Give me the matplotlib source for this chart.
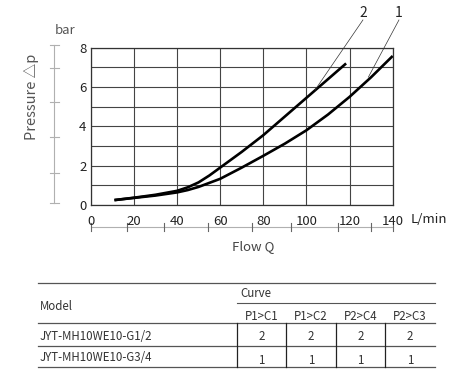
import matplotlib
matplotlib.use("Agg")
from matplotlib import pyplot as plt

plt.rcParams['font.family'] = ['Noto Sans CJK SC', 'DejaVu Sans']

# curve 1 (G3/4) and curve 2 (G1/2)
flow_1 = [11, 20, 30, 40, 45, 50, 60, 70, 80, 90, 100, 110, 120, 130, 140]
dp_1 = [0.25, 0.36, 0.48, 0.64, 0.76, 0.92, 1.33, 1.9, 2.5, 3.12, 3.8, 4.6, 5.5, 6.5, 7.58]
flow_2 = [11, 20, 30, 40, 45, 50, 55, 60, 70, 80, 90, 100, 110, 118.4]
dp_2 = [0.25, 0.37, 0.52, 0.72, 0.9, 1.15, 1.5, 1.9, 2.7, 3.55, 4.5, 5.45, 6.4, 7.2]

x_ticks = [0, 20, 40, 60, 80, 100, 120, 140]
y_ticks = [0, 2, 4, 6, 8]
y_minor = [1, 3, 5, 7]

# leader points on the curves (flow, dp) and label names
leader_pts = [(104, 5.85), (128.7, 6.5)]
leader_names = ['2', '1']

# table
models = ['JYT-MH10WE10-G1/2', 'JYT-MH10WE10-G3/4']
ports = ['P1>C1', 'P1>C2', 'P2>C4', 'P2>C3']
curve_ids = [['2', '2', '2', '2'], ['1', '1', '1', '1']]

W, H = 453, 385
fig = plt.figure(figsize=(W / 100, H / 100), dpi=100)

# overlay axes in pixel units, for decorations and the table
ov = fig.add_axes([0, 0, 1, 1])
ov.set_xlim(0, W)
ov.set_ylim(H, 0)
ov.axis('off')

x0, x1, ytop, ybot = 90.7, 392.7, 47.7, 205.0
ax = fig.add_axes([x0 / W, 1 - ybot / H, (x1 - x0) / W, (ybot - ytop) / H])
ax.set_xlim(0, 140)
ax.set_ylim(0, 8)
ax.set_xticks(x_ticks)
ax.set_yticks(y_ticks)
ax.set_yticks(y_minor, minor=True)
ax.grid(True, which='both', color='#444444', lw=0.8)
ax.tick_params(which='both', length=0, labelsize=9.5, labelcolor='#222222')
ax.tick_params(axis='x', pad=7)
ax.tick_params(axis='y', pad=3)
for s in ax.spines.values():
    s.set_color('#333333')
    s.set_linewidth(0.9)

ax.plot(flow_1, dp_1, color='black', lw=1.9, solid_capstyle='butt')
ax.plot(flow_2, dp_2, color='black', lw=1.9, solid_capstyle='butt')

# leader lines
label_pos = [(126.2, 9.41), (142.9, 9.41)]
for (px, py), (lx, ly), name in zip(leader_pts, label_pos, leader_names):
    ax.plot([px, lx], [py, ly], color='#333333', lw=0.5, clip_on=False)
    ax.text(lx, ly - 0.02, name, ha='center', va='bottom', fontsize=10, color='#222222')

ax.text(148.5, -0.72, 'L/min', ha='left', va='center', fontsize=9.5, color='#222222')

# decorative side scales
gray = '#b0b0b0'
ov.plot([54, 54], [45, 203], color=gray, lw=0.8)
for ty in [45, 67.7, 102, 136.7, 173, 202.7]:
    ov.plot([50, 59], [ty, ty], color=gray, lw=0.8)
ov.plot([91, 393], [227.3, 227.3], color=gray, lw=0.8)
for tx in [91, 127.3, 164.3, 207.7, 252.3, 290.7, 337.7, 371, 392.7]:
    ov.plot([tx, tx], [223, 231], color='#666666', lw=0.8)

ov.text(65, 31, 'bar', ha='center', va='center', fontsize=9.5, color='#555555')
ov.text(31, 97, 'Pressure △p', ha='center', va='center', rotation=90, fontsize=10.5, color='#555555')
ov.text(253, 246.5, 'Flow Q', ha='center', va='center', fontsize=9.5, color='#444444')

# table
tl, tr = 38, 435
cols = [237, 286, 336, 385, 435]
line_c = '#555555'
ov.plot([tl, tr], [283, 283], color=line_c, lw=0.9)
ov.plot([cols[0], tr], [303.3, 303.3], color=line_c, lw=0.8)
ov.plot([tl, tr], [323.3, 323.3], color=line_c, lw=0.9)
ov.plot([tl, tr], [346, 346], color=line_c, lw=0.9)
ov.plot([tl, tr], [367.3, 367.3], color=line_c, lw=0.9)
for cx in cols[:-1]:
    ov.plot([cx, cx], [323.3, 367.3], color='#222222', lw=0.9)

fs = 8.3
tc = '#333333'
ov.text(40, 306, 'Model', ha='left', va='center', fontsize=fs, color=tc)
ov.text(240, 293.5, 'Curve', ha='left', va='center', fontsize=fs, color=tc)
for i, p in enumerate(ports):
    ov.text((cols[i] + cols[i + 1]) / 2, 317, p, ha='center', va='center', fontsize=fs, color=tc)
row_y = [336, 357.5]
val_y = [337, 360.5]
for r, m in enumerate(models):
    ov.text(40, row_y[r], m, ha='left', va='center', fontsize=fs, color=tc)
    for i, v in enumerate(curve_ids[r]):
        ov.text((cols[i] + cols[i + 1]) / 2, val_y[r], v, ha='center', va='center', fontsize=fs, color=tc)

fig.savefig('out.png', dpi=100)
